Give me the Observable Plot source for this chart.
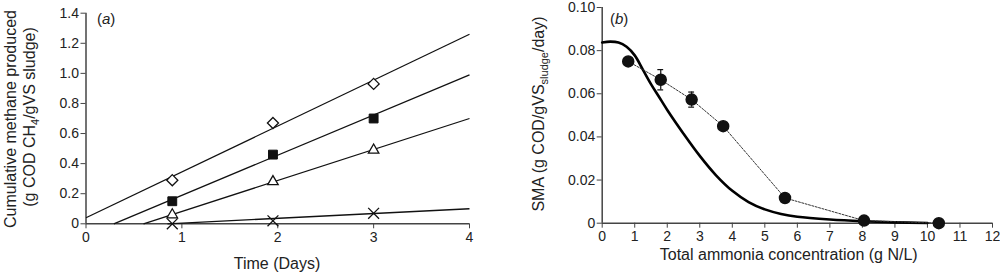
<!DOCTYPE html>
<html>
<head>
<meta charset="utf-8">
<script src="https://cdn.jsdelivr.net/npm/d3@7"></script>
<script src="https://cdn.jsdelivr.net/npm/@observablehq/plot@0.6"></script>
<style>
  html, body { margin: 0; padding: 0; background: #fff; overflow: hidden; }
  #wrap { position: relative; width: 1000px; height: 274px; overflow: hidden; }
  #wrap svg { position: absolute; top: 0; overflow: visible; }
</style>
</head>
<body>
<div id="wrap"></div>
<script>
// ---------- Panel (a): cumulative methane vs time ----------
const days = [0.9, 1.95, 3.0];
const diamondY = [0.29, 0.67, 0.93];
const squareY = [0.15, 0.46, 0.70];
const triangleY = [0.06, 0.28, 0.49];
const crossY = [0.0, 0.02, 0.07];
// fitted lines: start (x,y) and end (x=4,y)
const fitStartX = [0, 0.29, 0.60, 0.85];
const fitStartY = [0.04, 0, 0, 0];
const fitEndX = [4, 4, 4, 4];
const fitEndY = [1.26, 0.99, 0.70, 0.10];
const xTicksA = [0, 1, 2, 3, 4];
const yTicksA = [0, 0.2, 0.4, 0.6, 0.8, 1.0, 1.2, 1.4];

// ---------- Panel (b): SMA vs total ammonia ----------
const conc = [0.8, 1.8, 2.75, 3.72, 5.62, 8.05, 10.35];
const sma = [0.075, 0.0665, 0.0573, 0.045, 0.0117, 0.0012, 0.0];
const smaErr = [0, 0.0047, 0.0035, 0, 0, 0, 0];
const modelX = [0, 0.25, 0.5, 0.75, 1.0, 1.25, 1.5, 1.75, 2.0, 2.5, 3.0, 3.5, 4.0, 4.5, 5.0, 5.5, 6.0, 7.0, 8.0, 9.0, 10.0];
const modelY = [0.0838, 0.0842, 0.0838, 0.0818, 0.0778, 0.0712, 0.0645, 0.0585, 0.0525, 0.0415, 0.0312, 0.0222, 0.0150, 0.0098, 0.0064, 0.0043, 0.0030, 0.0017, 0.0009, 0.0004, 0.0001];
const xTicksB = [0, 1, 2, 3, 4, 5, 6, 7, 8, 9, 10, 11, 12];
const yTicksB = [0, 0.02, 0.04, 0.06, 0.08, 0.10];

const FONT = "'Liberation Sans', Arial, Helvetica, sans-serif";
const AXIS = "#444";
const TICKFONT = 14;

const pts = ys => days.map((d, i) => ({x: d, y: ys[i]}));
const fits = fitStartX.map((x, i) => ({x1: x, y1: fitStartY[i], x2: fitEndX[i], y2: fitEndY[i]}));

const plotA = Plot.plot({
  width: 500, height: 274,
  marginLeft: 85.5, marginRight: 31, marginTop: 12.7, marginBottom: 50.7,
  style: {fontFamily: FONT, fontSize: "14px", color: "#222", background: "transparent"},
  x: {domain: [0, 4]},
  y: {domain: [0, 1.4]},
  marks: [
    Plot.ruleY([0], {stroke: AXIS, strokeWidth: 1.5}),
    Plot.ruleX([0], {stroke: AXIS, strokeWidth: 1.5}),
    Plot.axisX({ticks: xTicksA, tickSize: 5, tickPadding: 3, tickFormat: d => String(d), label: null, stroke: AXIS, fontSize: TICKFONT}),
    Plot.axisY({ticks: yTicksA, tickSize: 5, tickPadding: 2, tickFormat: d => d === 0 ? "0" : d.toFixed(1), label: null, stroke: AXIS, fontSize: TICKFONT}),
    Plot.link(fits, {x1: "x1", y1: "y1", x2: "x2", y2: "y2", stroke: "#111", strokeWidth: 1.3}),
    Plot.dot(pts(crossY), {x: "x", y: "y", symbol: "times", r: 5, stroke: "#111", strokeWidth: 1.3}),
    Plot.dot(pts(triangleY), {x: "x", y: "y", symbol: "triangle2", r: 5, fill: "white", stroke: "#111", strokeWidth: 1.3}),
    Plot.dot(pts(squareY), {x: "x", y: "y", symbol: "square", r: 5, fill: "#111", stroke: "#111", strokeWidth: 1}),
    Plot.dot(pts(diamondY), {x: "x", y: "y", symbol: "diamond2", r: 5, fill: "white", stroke: "#111", strokeWidth: 1.3})
  ]
});

const smaPts = conc.map((c, i) => ({x: c, y: sma[i], e: smaErr[i]}));
const errPts = smaPts.filter(d => d.e > 0);
const model = modelX.map((x, i) => ({x, y: modelY[i]}));

const plotB = Plot.plot({
  width: 500, height: 274,
  marginLeft: 101.7, marginRight: 8, marginTop: 7, marginBottom: 51.3,
  style: {fontFamily: FONT, fontSize: "14px", color: "#222", background: "transparent"},
  x: {domain: [0, 12]},
  y: {domain: [0, 0.10]},
  marks: [
    Plot.ruleY([0], {stroke: AXIS, strokeWidth: 1.5}),
    Plot.ruleX([0], {stroke: AXIS, strokeWidth: 1.5}),
    Plot.axisX({ticks: xTicksB, tickSize: 5, tickPadding: 3, tickFormat: d => String(d), label: null, stroke: AXIS, fontSize: TICKFONT}),
    Plot.axisY({ticks: yTicksB, tickSize: 5, tickPadding: 2, tickFormat: d => d === 0 ? "0" : d.toFixed(2), label: null, stroke: AXIS, fontSize: TICKFONT}),
    Plot.line(model, {x: "x", y: "y", stroke: "#000", strokeWidth: 2.6, curve: "catmull-rom"}),
    Plot.line(smaPts, {x: "x", y: "y", stroke: "#333", strokeWidth: 1, strokeDasharray: "2,1.5"}),
    Plot.ruleX(errPts, {x: "x", y1: d => d.y - d.e, y2: d => d.y + d.e, stroke: "#111", strokeWidth: 1.2}),
    Plot.ruleY(errPts, {y: d => d.y + d.e, x1: d => d.x - 0.09, x2: d => d.x + 0.09, stroke: "#111", strokeWidth: 1.2}),
    Plot.ruleY(errPts, {y: d => d.y - d.e, x1: d => d.x - 0.09, x2: d => d.x + 0.09, stroke: "#111", strokeWidth: 1.2}),
    Plot.dot(smaPts, {x: "x", y: "y", r: 5.5, fill: "#111", stroke: "#111"})
  ]
});

const wrap = document.getElementById("wrap");
plotA.style.left = "0px";
plotB.style.left = "500px";
wrap.appendChild(plotA);
wrap.appendChild(plotB);

// ---------- Titles (real text, with subscripts) ----------
function addText(svg, x, y, parts, opts = {}) {
  const t = d3.select(svg).append("text")
    .attr("transform", `translate(${x},${y})` + (opts.rotate ? ` rotate(${opts.rotate})` : ""))
    .attr("text-anchor", opts.anchor || "middle")
    .attr("font-family", FONT)
    .attr("font-size", opts.size || 16)
    .attr("fill", "#222");
  for (const p of parts) {
    const s = t.append("tspan").text(p.t);
    if (p.sub) s.attr("font-size", opts.subSize || 11).attr("dy", 4);
    if (p.after) s.attr("dy", -4);
    if (p.italic) s.attr("font-style", "italic");
  }
  return t;
}

addText(plotA, 16, 119, [{t: "Cumulative methane produced"}], {rotate: -90});
addText(plotA, 35, 117, [{t: "(g COD CH"}, {t: "4", sub: true}, {t: "/gVS sludge)", after: true}], {rotate: -90});
addText(plotA, 277, 268.5, [{t: "Time (Days)"}]);
addText(plotA, 97, 24, [{t: "("}, {t: "a", italic: true}, {t: ")"}], {anchor: "start", size: 15});

addText(plotB, 43.5, 114, [{t: "SMA (g COD/gVS"}, {t: "sludge", sub: true}, {t: "/day)", after: true}], {rotate: -90});
addText(plotB, 288.7, 260, [{t: "Total ammonia concentration (g N/L)"}]);
addText(plotB, 110, 24, [{t: "("}, {t: "b", italic: true}, {t: ")"}], {anchor: "start", size: 15});
</script>
</body>
</html>
